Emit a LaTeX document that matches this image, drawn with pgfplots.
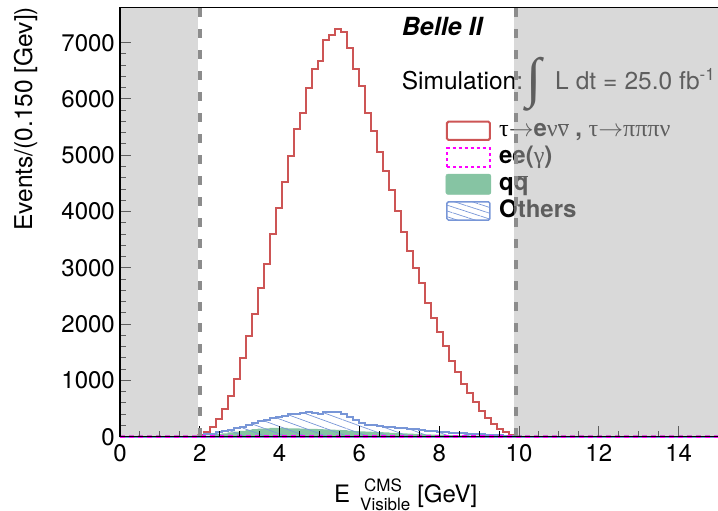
\documentclass[border=0pt]{standalone}
\usepackage{fontspec}
\setmainfont{TeX Gyre Heros}
\newfontfamily\serif{Liberation Serif}
\usepackage{graphicx}
\usepackage{pgfplots}
\pgfplotsset{compat=1.18}
\usepackage{pgfplotstable}
\usetikzlibrary{patterns.meta}
\definecolor{sigred}{RGB}{205,85,85}
\definecolor{othblue}{RGB}{120,150,215}
\definecolor{qqgreen}{RGB}{134,196,163}
\definecolor{eemag}{RGB}{255,0,255}
\definecolor{cutgray}{RGB}{140,140,140}
\definecolor{vetogray}{RGB}{182,182,182}
\newcommand\tfont{\fontsize{24}{28}\selectfont}
\newcommand\arr{$\rightarrow$}

% signal tau -> e nu nu, tau -> 3pi nu (bin left edge, events)
\pgfplotstableread{
x y
1.95 0
1.95 36
2.10 83
2.25 172
2.40 314
2.55 492
2.70 728
2.85 1030
3.00 1391
3.15 1782
3.30 2180
3.45 2642
3.60 3073
3.75 3601
3.90 4063
4.05 4525
4.20 4980
4.35 5472
4.50 5744
4.65 6188
4.80 6532
4.95 6674
5.10 7040
5.25 7130
5.40 7248
5.55 7183
5.70 6905
5.85 6538
6.00 6236
6.15 5745
6.30 5424
6.45 5057
6.60 4713
6.75 4380
6.90 4002
7.05 3640
7.20 3300
7.35 2997
7.50 2730
7.65 2370
7.80 2115
7.95 1860
8.10 1604
8.25 1338
8.40 1142
8.55 941
8.70 776
8.85 609
9.00 462
9.15 332
9.30 225
9.45 136
9.60 77
9.75 30
9.90 5
10.05 0
}\sigtab

% qqbar
\pgfplotstableread{
x y
1.95 0
1.95 10
2.10 20
2.25 30
2.40 45
2.55 60
2.70 75
2.85 90
3.00 105
3.15 120
3.30 135
3.45 145
3.60 150
3.75 155
3.90 155
4.05 155
4.20 150
4.35 150
4.50 145
4.65 140
4.80 140
4.95 135
5.10 130
5.25 125
5.40 120
5.55 115
5.70 110
5.85 100
6.00 95
6.15 90
6.30 85
6.45 80
6.60 75
6.75 70
6.90 65
7.05 60
7.20 55
7.35 50
7.50 45
7.65 42
7.80 38
7.95 35
8.10 32
8.25 28
8.40 25
8.55 22
8.70 20
8.85 18
9.00 15
9.15 12
9.30 10
9.45 8
9.60 6
9.75 4
9.90 2
10.05 0
}\qqtab

% others
\pgfplotstableread{
x y
0.00 0
1.95 20
2.10 40
2.25 55
2.40 75
2.55 95
2.70 120
2.85 150
3.00 180
3.15 205
3.30 240
3.45 270
3.60 300
3.75 325
3.90 345
4.05 360
4.20 405
4.35 410
4.50 420
4.65 430
4.80 425
4.95 410
5.10 445
5.25 440
5.40 430
5.55 400
5.70 350
5.85 300
6.00 245
6.15 215
6.30 200
6.45 190
6.60 180
6.75 170
6.90 160
7.05 150
7.20 140
7.35 130
7.50 120
7.65 110
7.80 100
7.95 90
8.10 80
8.25 72
8.40 65
8.55 58
8.70 52
8.85 46
9.00 40
9.15 35
9.30 30
9.45 25
9.60 20
9.75 15
9.90 8
10.05 0
15.00 0
}\othtab

% ee(gamma)
\pgfplotstableread{
x y
0.00 0
1.95 3
10.05 0
15.00 0
}\eetab

\begin{document}
\begin{tikzpicture}
\useasboundingbox (0,0) rectangle (718pt,511pt);
\pgfplotsset{belle/.style={scale only axis, width=598.5pt, height=429.2pt,
  at={(120pt,74.3pt)}, anchor=south west, xmin=0, xmax=15, ymin=0, ymax=7625}}
\begin{axis}[belle, axis on top, clip=false,
  xtick={0,2,...,14}, ytick={0,1000,...,7000},
  minor x tick num=3, minor y tick num=4,
  tick align=inside, tick pos=left,
  major tick length=11pt, minor tick length=5.5pt,
  tick style={black, line width=1pt}, axis line style={line width=1pt},
  ticklabel style={font=\tfont},
  /pgf/number format/assume math mode=true,
  /pgf/number format/set thousands separator={},
  scaled y ticks=false,
  xticklabel style={inner sep=0pt, yshift=-7.3pt},
  yticklabel style={inner sep=0pt, xshift=-5pt},
  legend style={at={(axis description cs:0.5442,0.7379)}, anchor=north west,
    draw=none, fill=none, inner sep=0pt, outer sep=0pt, row sep=4.7pt,
    column sep=0pt, cells={anchor=base west},
    nodes={inner sep=0pt, text height=17pt, text depth=5pt,
      font=\fontsize{24}{28}\selectfont\bfseries}},
  /tikz/every odd column/.style={column sep=8pt}]

\addlegendimage{legend image code/.code={\draw[sigred, line width=2pt, rounded corners=1.5pt] (0pt,-3pt) rectangle (43pt,15.3pt);}}
\addlegendentry{{\mdseries\serif τ\arr}e{\mdseries\serif ν$\overline{\hbox{\serif ν}}$}\ ,\ {\mdseries\serif τ\arr πππν}}
\addlegendimage{legend image code/.code={\draw[eemag, line width=2pt, dash pattern=on 3pt off 3pt] (0pt,-3pt) rectangle (43pt,15.3pt);}}
\addlegendentry{ee({\mdseries\serif γ})}
\addlegendimage{legend image code/.code={\fill[qqgreen, rounded corners=2pt] (-1pt,-4pt) rectangle (44pt,16.3pt);}}
\addlegendentry{q$\overline{\hbox{\bfseries q}}$}
\addlegendimage{legend image code/.code={\draw[othblue, line width=1.5pt, rounded corners=1.5pt, pattern={Lines[angle=-18,distance=5.5pt,line width=0.7pt]}, pattern color=othblue] (0pt,-3pt) rectangle (43pt,15.3pt);}}
\addlegendentry{Others}

\addplot[forget plot, const plot, draw=sigred, line width=2pt] table {\sigtab};
\addplot[forget plot, const plot, draw=none, fill=qqgreen] table {\qqtab} \closedcycle;
\addplot[forget plot, const plot, draw=othblue, line width=2pt,
  pattern={Lines[angle=-20,distance=7pt,line width=0.7pt]}, pattern color=othblue] table {\othtab} \closedcycle;
\addplot[forget plot, const plot, draw=eemag, line width=2.5pt, dash pattern=on 5pt off 4pt] table {\eetab};
\end{axis}

\node[anchor=base west, inner sep=0pt, font=\fontsize{25}{30}\selectfont\bfseries\itshape] at (401.7pt,475pt) {Belle II};
\node[anchor=base west, inner sep=0pt, font=\fontsize{24.5}{30}\selectfont] at (401.7pt,421pt) {Simulation:};
\node[anchor=south west, inner sep=0pt] at (526pt,399.3pt) {\resizebox*{!}{54pt}{\serif ∫}};
\node[anchor=base west, inner sep=0pt, font=\fontsize{24.5}{30}\selectfont] at (555pt,421pt)
  {L\hspace{7pt}dt\hspace{7pt}=\hspace{7pt}25.0\hspace{7pt}fb\raisebox{9pt}{\fontsize{17}{17}\selectfont -1}};
\node[rotate=90, anchor=base east, inner sep=0pt, font=\fontsize{24.5}{30}\selectfont] at (32pt,504.3pt) {Events/(0.150 [Gev])};
\node[anchor=base west, inner sep=0pt, font=\fontsize{24}{28}\selectfont] at (334pt,8pt)
  {E\hspace{10pt}\rlap{\hspace{4pt}\raisebox{11pt}{\fontsize{17}{17}\selectfont CMS}}\raisebox{-8pt}{\fontsize{17}{17}\selectfont Visible}\hspace{7pt}[GeV]};

\begin{axis}[belle, axis on top, xtick=\empty, ytick=\empty, axis line style={line width=1pt}]
\fill[vetogray, fill opacity=0.52] (axis cs:0,0) rectangle (axis cs:1.95,7625);
\fill[vetogray, fill opacity=0.52] (axis cs:9.87,0) rectangle (axis cs:15,7625);
\draw[cutgray, line width=4pt, dash pattern=on 9pt off 12pt] (axis cs:2,0) -- (axis cs:2,7625);
\draw[cutgray, line width=4pt, dash pattern=on 9pt off 12pt] (axis cs:9.925,0) -- (axis cs:9.925,7625);
\end{axis}
\end{tikzpicture}
\end{document}
